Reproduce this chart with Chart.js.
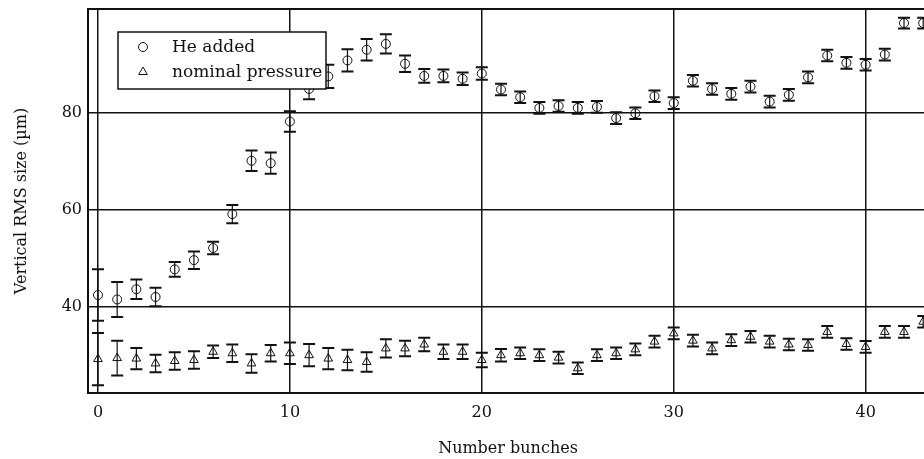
<!DOCTYPE html>
<html>
<head>
<meta charset="utf-8">
<script src="https://cdn.jsdelivr.net/npm/chart.js@4.4.1/dist/chart.umd.min.js"></script>
<style>
  html, body { margin:0; padding:0; background:#fff; overflow:hidden; }
  #wrap { position:relative; width:934px; height:459px; }
</style>
</head>
<body>
<div id="wrap"><canvas id="rmsChart"></canvas></div>
<script>
const bunches = [0,1,2,3,4,5,6,7,8,9,10,11,12,13,14,15,16,17,18,19,20,21,
  22,23,24,25,26,27,28,29,30,31,32,33,34,35,36,37,38,39,40,41,42,43];

const heAdded = [42.4,41.5,43.6,42.0,47.7,49.6,52.1,59.1,70.1,69.6,78.2,84.9,
  87.5,90.8,93.0,94.2,90.1,87.6,87.6,87.0,88.1,84.8,83.2,81.0,81.4,81.0,81.2,
  78.9,79.9,83.4,82.0,86.6,84.9,83.9,85.4,82.3,83.7,87.3,91.8,90.3,89.9,92.0,98.5,98.5];
const heAddedErr = [5.3,3.6,2.0,1.9,1.5,1.8,1.3,1.9,2.1,2.2,2.1,2.1,
  2.4,2.3,2.2,2.0,1.7,1.4,1.3,1.3,1.3,1.2,1.2,1.2,1.2,1.2,1.2,
  1.2,1.2,1.2,1.2,1.2,1.2,1.2,1.2,1.2,1.2,1.2,1.2,1.2,1.2,1.2,1.1,1.1];

const nominal = [29.2,29.4,29.3,28.3,28.8,29.0,30.7,30.4,28.3,30.4,30.4,30.0,
  29.3,29.0,28.6,31.4,31.4,32.2,30.7,30.7,29.0,30.0,30.4,30.0,29.5,27.3,30.0,
  30.4,31.2,32.8,34.5,33.0,31.4,33.1,33.8,32.8,32.2,32.1,34.8,32.3,31.7,34.8,34.8,36.9];
const nominalErr = [5.4,3.6,2.2,1.8,1.8,1.8,1.3,1.8,1.9,1.7,2.2,2.3,
  2.2,2.1,2.0,1.9,1.6,1.4,1.5,1.5,1.5,1.3,1.2,1.2,1.2,1.2,1.2,
  1.2,1.2,1.2,1.2,1.2,1.2,1.2,1.2,1.2,1.2,1.2,1.2,1.2,1.2,1.2,1.2,1.2];

const xTicks = [0,10,20,30,40];
const yTicks = [40,60,80];

const serif = "'DejaVu Serif', serif";
const ink = "#111";

// barras de error
const errorBars = {
  id: "errorBars",
  afterDatasetsDraw(chart) {
    const {ctx, chartArea, scales:{x, y}} = chart;
    ctx.save();
    ctx.beginPath();
    ctx.rect(chartArea.left, chartArea.top, chartArea.width, chartArea.height);
    ctx.clip();
    ctx.strokeStyle = ink;
    [[heAdded, heAddedErr], [nominal, nominalErr]].forEach(([vals, errs]) => {
      vals.forEach((v, i) => {
        const px = x.getPixelForValue(bunches[i]);
        const top = y.getPixelForValue(v + errs[i]);
        const bot = y.getPixelForValue(v - errs[i]);
        ctx.lineWidth = 1.2;
        ctx.beginPath();
        ctx.moveTo(px, top); ctx.lineTo(px, bot);
        ctx.stroke();
        ctx.lineWidth = 2;
        ctx.beginPath();
        ctx.moveTo(px - 6, top); ctx.lineTo(px + 6, top);
        ctx.moveTo(px - 6, bot); ctx.lineTo(px + 6, bot);
        ctx.stroke();
      });
    });
    ctx.restore();
  }
};

// marco completo
const frame = {
  id: "frame",
  beforeDatasetsDraw(chart) {
    const {ctx, chartArea:a} = chart;
    ctx.save();
    ctx.strokeStyle = ink;
    ctx.lineWidth = 2;
    ctx.strokeRect(a.left, a.top, a.width, a.height);
    ctx.restore();
  }
};

// leyenda dentro del area
const boxLegend = {
  id: "boxLegend",
  afterDraw(chart) {
    const {ctx} = chart;
    ctx.save();
    ctx.fillStyle = "#fff";
    ctx.fillRect(118, 32, 208, 57);
    ctx.strokeStyle = ink;
    ctx.lineWidth = 1.5;
    ctx.strokeRect(118, 32, 208, 57);
    ctx.font = "17px " + serif;
    ctx.textBaseline = "middle";
    chart.data.datasets.forEach((ds, i) => {
      const cy = 47 + i * 25;
      ctx.fillStyle = "#fff";
      ctx.strokeStyle = ink;
      ctx.lineWidth = 1;
      Chart.helpers.drawPoint(ctx, {pointStyle: ds.pointStyle, radius: ds.pointRadius, borderWidth: 1}, 143, cy);
      ctx.fillStyle = ink;
      ctx.fillText(ds.label, 172, cy + 1);
    });
    ctx.restore();
  }
};

const ctx = document.getElementById("rmsChart").getContext("2d");

new Chart(ctx, {
  type: "scatter",
  data: {
    datasets: [
      { label: "He added", data: bunches.map((b, i) => ({x: b, y: heAdded[i]})),
        pointStyle: "circle", pointRadius: 4.5, borderColor: ink, backgroundColor: "rgba(0,0,0,0)", borderWidth: 1 },
      { label: "nominal pressure", data: bunches.map((b, i) => ({x: b, y: nominal[i]})),
        pointStyle: "triangle", pointRadius: 5, borderColor: ink, backgroundColor: "rgba(0,0,0,0)", borderWidth: 1 }
    ]
  },
  options: {
    responsive: true,
    maintainAspectRatio: false,
    animation: false,
    layout: { padding: { top: 9, right: 2, left: 0, bottom: 0 } },
    plugins: { legend: { display: false }, tooltip: { enabled: false } },
    scales: {
      x: {
        type: "linear", min: -0.52, max: 43.25,
        afterBuildTicks: s => { s.ticks = xTicks.map(v => ({value: v})); },
        afterFit: s => { s.height = 66; s.paddingLeft = 0; s.paddingRight = 0; },
        grid: { color: ink, lineWidth: 1.5, drawTicks: false },
        border: { display: false },
        ticks: { color: ink, padding: 10, font: { family: serif, size: 16 } },
        title: { display: true, text: "Number bunches", color: ink, padding: { top: 0, bottom: 1 },
                 font: { family: serif, size: 16 } }
      },
      y: {
        type: "linear", min: 22.2, max: 101.4,
        afterBuildTicks: s => { s.ticks = yTicks.map(v => ({value: v})); },
        afterFit: s => { s.width = 88; s.paddingTop = 0; s.paddingBottom = 0; },
        grid: { color: ink, lineWidth: 1.5, drawTicks: false },
        border: { display: false },
        ticks: { color: ink, padding: 6, font: { family: serif, size: 16 } },
        title: { display: true, text: "Vertical RMS size (µm)", color: ink, padding: { top: 12, bottom: 0 },
                 font: { family: serif, size: 16 } }
      }
    }
  },
  plugins: [frame, errorBars, boxLegend]
});
</script>
</body>
</html>
